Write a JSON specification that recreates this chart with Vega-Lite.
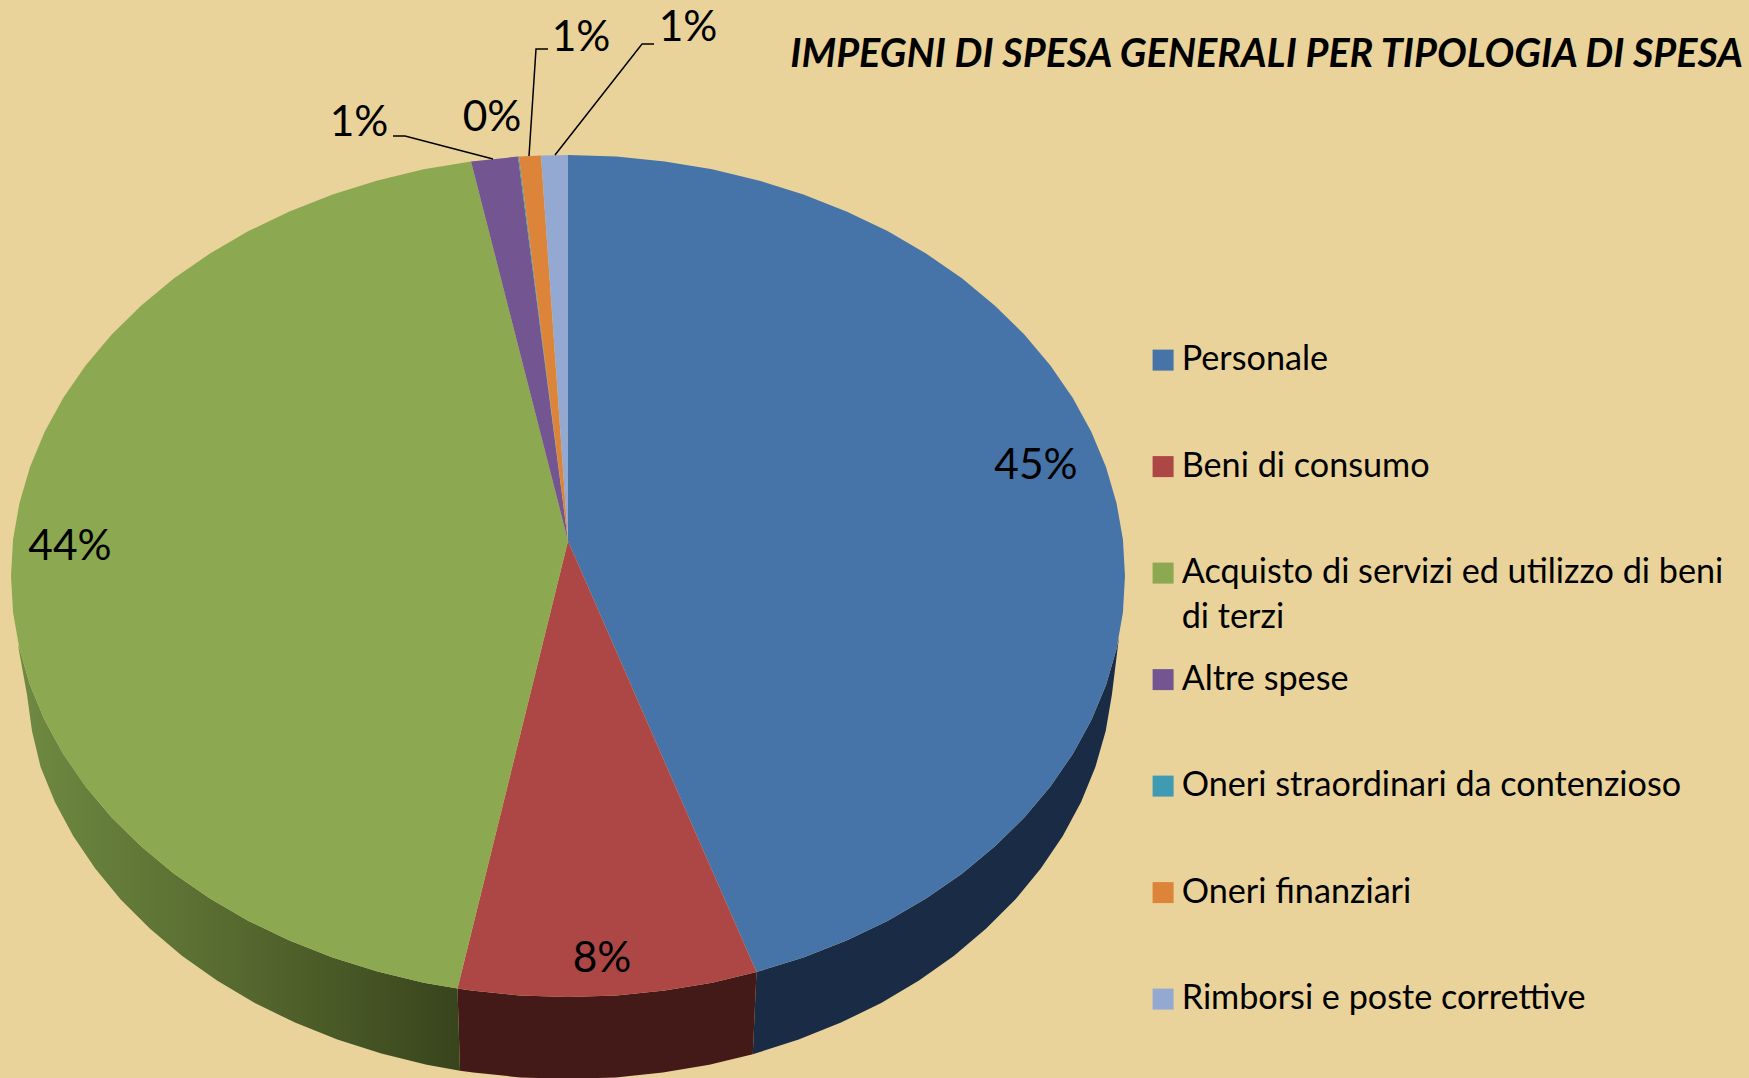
{"$schema":"https://vega.github.io/schema/vega-lite/v6.json","width":1749,"height":1078,"autosize":"none","padding":0,"background":"#E9D39A","config":{"view":{"stroke":null}},
"title":{"text":"IMPEGNI DI SPESA GENERALI PER TIPOLOGIA DI SPESA","anchor":"end","frame":"group","font":"Lato","fontStyle":"italic","fontWeight":"bold","fontSize":39.5,"color":"#000000","dx":-6,"dy":75,"offset":0},
"projection":{"type":"identity","reflectY":true,"scale":1,"translate":[568,541]},
"datasets":{
"walls":[
{"part":"Personale","geo":{"type":"Polygon","coordinates":[[[551,-96],[548.5,-108.1],[538,-144],[523.4,-179],[504.8,-212.9],[482.4,-245.5],[456.3,-276.5],[426.7,-305.6],[393.9,-332.7],[358,-357.5],[319.5,-379.9],[278.5,-399.6],[235.4,-416.6],[188.5,-431],[184.8,-513.2],[230.7,-498.6],[273,-481.6],[313.2,-461.9],[351,-439.5],[386.1,-414.7],[418.2,-387.6],[447.3,-358.5],[472.8,-327.5],[494.8,-294.9],[513.1,-261],[527.4,-226],[537.7,-190.1],[543.9,-153.7],[551,-96]]]}},
{"part":"Beni di consumo","geo":{"type":"Polygon","coordinates":[[[188.5,-431],[144.2,-441.7],[96.7,-449.6],[48.5,-454.4],[0,-456],[-48.5,-454.4],[-96.7,-449.6],[-110.5,-447.6],[-108,-529.7],[-94.8,-531.6],[-47.6,-536.4],[0,-538],[47.6,-536.4],[94.8,-531.6],[141.3,-523.7],[184.8,-513.2],[188.5,-431]]]}},
{"part":"Acquisto","geo":{"type":"Polygon","coordinates":[[[-110.5,-447.6],[-144.2,-441.7],[-190.5,-430.6],[-235.4,-416.6],[-278.5,-399.6],[-319.5,-379.9],[-358,-357.5],[-393.9,-332.7],[-426.7,-305.6],[-456.3,-276.5],[-482.4,-245.5],[-504.8,-212.9],[-523.4,-179],[-538,-144],[-548.5,-108.1],[-550,-104],[-541,-153.7],[-536,-190.1],[-527.4,-226],[-513.1,-261],[-494.8,-294.9],[-472.8,-327.5],[-447.3,-358.5],[-418.2,-387.6],[-386.1,-414.7],[-351,-439.5],[-313.2,-461.9],[-273,-481.6],[-230.7,-498.6],[-186.7,-512.6],[-141.3,-523.7],[-108,-529.7],[-110.5,-447.6]]]}}
],
"slices":[
{"category":"Personale","share":45,"geo":{"type":"Polygon","coordinates":[[[0,0],[0,386],[48.5,384.4],[96.7,379.6],[144.2,371.7],[190.5,360.6],[235.4,346.6],[278.5,329.6],[319.5,309.9],[358,287.5],[393.9,262.7],[426.7,235.6],[456.3,206.5],[482.4,175.5],[504.8,142.9],[523.4,109],[538,74],[548.5,38.1],[554.9,1.7],[557,-35],[554.9,-71.7],[548.5,-108.1],[538,-144],[523.4,-179],[504.8,-212.9],[482.4,-245.5],[456.3,-276.5],[426.7,-305.6],[393.9,-332.7],[358,-357.5],[319.5,-379.9],[278.5,-399.6],[235.4,-416.6],[188.5,-431],[0,0]]]}},
{"category":"Beni di consumo","share":8,"geo":{"type":"Polygon","coordinates":[[[0,0],[188.5,-431],[144.2,-441.7],[96.7,-449.6],[48.5,-454.4],[0,-456],[-48.5,-454.4],[-96.7,-449.6],[-110.5,-447.6],[0,0]]]}},
{"category":"Acquisto di servizi ed utilizzo di beni di terzi","share":44,"geo":{"type":"Polygon","coordinates":[[[0,0],[-110.5,-447.6],[-144.2,-441.7],[-190.5,-430.6],[-235.4,-416.6],[-278.5,-399.6],[-319.5,-379.9],[-358,-357.5],[-393.9,-332.7],[-426.7,-305.6],[-456.3,-276.5],[-482.4,-245.5],[-504.8,-212.9],[-523.4,-179],[-538,-144],[-548.5,-108.1],[-554.9,-71.7],[-557,-35],[-554.9,1.7],[-548.5,38.1],[-538,74],[-523.4,109],[-504.8,142.9],[-482.4,175.5],[-456.3,206.5],[-426.7,235.6],[-393.9,262.7],[-358,287.5],[-319.5,309.9],[-278.5,329.6],[-235.4,346.6],[-190.5,360.6],[-144.2,371.7],[-97,379.6],[0,0]]]}},
{"category":"Altre spese","share":1,"geo":{"type":"Polygon","coordinates":[[[0,0],[-97,379.6],[-50,384.4],[0,0]]]}},
{"category":"Oneri straordinari da contenzioso","share":0,"geo":{"type":"Polygon","coordinates":[[[0,0],[-50,384.4],[-49,384.5],[0,0]]]}},
{"category":"Oneri finanziari","share":1,"geo":{"type":"Polygon","coordinates":[[[0,0],[-49,384.5],[-27,385.5],[0,0]]]}},
{"category":"Rimborsi e poste correttive","share":1,"geo":{"type":"Polygon","coordinates":[[[0,0],[-27,385.5],[0,386],[0,0]]]}}
],
"labels":[
{"label":"45%","lon":468,"lat":75},
{"label":"44%","lon":-498,"lat":-6},
{"label":"8%","lon":34,"lat":-418},
{"label":"1%","lon":-209,"lat":418},
{"label":"0%","lon":-76,"lat":423},
{"label":"1%","lon":13,"lat":503},
{"label":"1%","lon":120,"lat":513}
],
"leaders":[
{"leader":"a","seq":1,"lon":-175,"lat":405},{"leader":"a","seq":2,"lon":-163,"lat":405},{"leader":"a","seq":3,"lon":-75,"lat":382},
{"leader":"b","seq":1,"lon":-20,"lat":492},{"leader":"b","seq":2,"lon":-32,"lat":492},{"leader":"b","seq":3,"lon":-39,"lat":385},
{"leader":"c","seq":1,"lon":86,"lat":497},{"leader":"c","seq":2,"lon":74,"lat":497},{"leader":"c","seq":3,"lon":-13,"lat":386}
]
},
"layer":[
{"data":{"name":"walls"},"transform":[{"filter":"datum.part=='Personale'"}],"mark":{"type":"geoshape","fill":"#1A2C45","strokeWidth":0},"encoding":{"shape":{"field":"geo","type":"geojson"}}},
{"data":{"name":"walls"},"transform":[{"filter":"datum.part=='Beni di consumo'"}],"mark":{"type":"geoshape","fill":"#441A18","strokeWidth":0},"encoding":{"shape":{"field":"geo","type":"geojson"}}},
{"data":{"name":"walls"},"transform":[{"filter":"datum.part=='Acquisto'"}],"mark":{"type":"geoshape","strokeWidth":0,"fill":{"gradient":"linear","x1":0,"y1":0,"x2":1,"y2":0,"stops":[{"offset":0,"color":"#6F8A42"},{"offset":0.5,"color":"#56692F"},{"offset":1,"color":"#38441C"}]}},"encoding":{"shape":{"field":"geo","type":"geojson"}}},
{"data":{"name":"slices"},"mark":{"type":"geoshape","strokeWidth":0},"encoding":{"shape":{"field":"geo","type":"geojson"},"fill":{"field":"category","type":"nominal","scale":{"domain":["Personale","Beni di consumo","Acquisto di servizi ed utilizzo di beni di terzi","Altre spese","Oneri straordinari da contenzioso","Oneri finanziari","Rimborsi e poste correttive"],"range":["#4674A9","#AD4745","#8CA850","#735691","#3F9BB3","#DD843B","#94A9D1"]},"legend":{"title":null,"orient":"none","legendX":1146,"legendY":343,"symbolType":"square","symbolSize":441,"symbolStrokeWidth":0,"symbolOpacity":1,"labelFont":"Lato","labelFontSize":34.2,"labelColor":"#000000","labelOffset":1.5,"labelLimit":700,"gridAlign":"all","rowPadding":26.5,"labelExpr":"datum.label=='Acquisto di servizi ed utilizzo di beni di terzi'?['Acquisto di servizi ed utilizzo di beni','di terzi']:datum.label","encode":{"labels":{"update":{"lineHeight":{"value":45}}}}}}}},
{"data":{"name":"leaders"},"mark":{"type":"line","stroke":"#000000","strokeWidth":1.5},"encoding":{"longitude":{"field":"lon","type":"quantitative"},"latitude":{"field":"lat","type":"quantitative"},"detail":{"field":"leader","type":"nominal"},"order":{"field":"seq","type":"quantitative"}}},
{"data":{"name":"labels"},"mark":{"type":"text","font":"Lato","fontSize":42.5,"color":"#000000","align":"center","baseline":"middle"},"encoding":{"longitude":{"field":"lon","type":"quantitative"},"latitude":{"field":"lat","type":"quantitative"},"text":{"field":"label","type":"nominal"}}}
]}
